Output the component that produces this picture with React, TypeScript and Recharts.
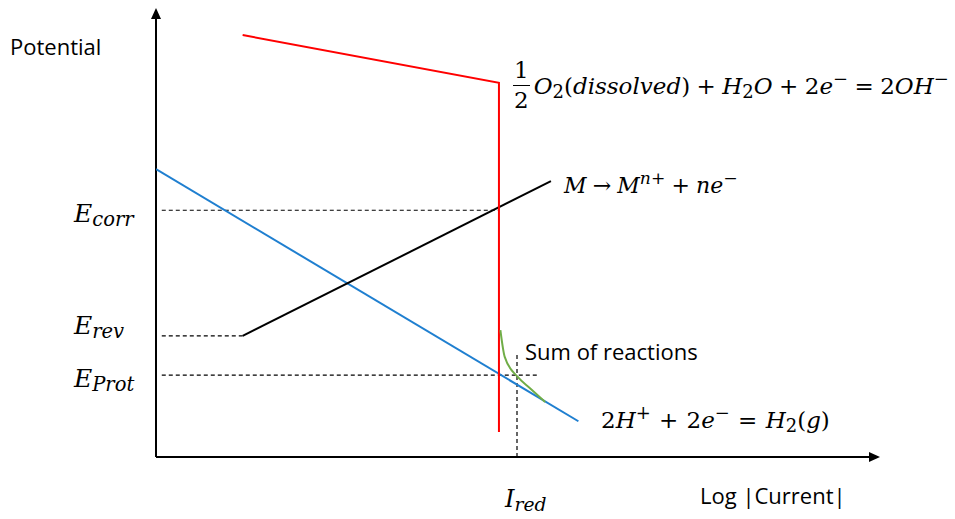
import { LineChart, Line, XAxis, YAxis, ReferenceDot, ReferenceLine } from "recharts";

// x = log|current|, y = potential (arbitrary units, 0..10 on both axes)
const oxygenX = [1.2, 4.75, 4.75];
const oxygenY = [9.44, 8.37, 0.56];
const metalX = [1.2, 5.47];
const metalY = [2.71, 6.17];
const hydrogenX = [0, 5.85];
const hydrogenY = [6.44, 0.8];
const sumX = [4.77, 4.83, 5.01, 5.18, 5.39];
const sumY = [2.84, 2.24, 1.79, 1.54, 1.23];

const E_CORR = 5.52;
const E_REV = 2.71;
const E_PROT = 1.83;
const I_RED = 5.0;
const GUIDE_START = 0.08;

const pts = (xs: number[], ys: number[]) => xs.map((x, i) => ({ x, y: ys[i] }));

const oxygen = pts(oxygenX, oxygenY);
const metal = pts(metalX, metalY);
const hydrogen = pts(hydrogenX, hydrogenY);
const sum = pts(sumX, sumY);
const corrGuide = pts([GUIDE_START, oxygenX[1]], [E_CORR, E_CORR]);
const revGuide = pts([GUIDE_START, metalX[0]], [E_REV, E_REV]);
const protGuide = pts([GUIDE_START, 5.28], [E_PROT, E_PROT]);
const iredGuide = pts([I_RED, I_RED], [0, 2.33]);

const math = "'DejaVu Serif', 'Liberation Serif', serif";
const sans = "'Open Sans', Lato, sans-serif";

const label = (left: number, top: number, size: number, family: string, italic = false) => ({
  position: "absolute" as const,
  left,
  top,
  fontSize: size,
  fontFamily: family,
  fontStyle: italic ? "italic" : "normal",
  whiteSpace: "nowrap" as const,
  lineHeight: 1,
  color: "#000",
});

const sub = { fontSize: "0.78em", verticalAlign: "-0.22em" };
const sup = { fontSize: "0.78em", verticalAlign: "0.5em" };
const up = { fontStyle: "normal" as const };
const op = { fontStyle: "normal" as const, margin: "0 0.28em" };
const wideOp = { fontStyle: "normal" as const, margin: "0 0.36em" };

const ArrowRight = (p: any) => (
  <path d={`M${p.cx + 2} ${p.cy} l-11 -5 l0 10 z`} fill="#000" />
);
const ArrowUp = (p: any) => (
  <path d={`M${p.cx} ${p.cy - 2} l-5 11 l10 0 z`} fill="#000" />
);

const dashed = { stroke: "#000", strokeWidth: 1.2, strokeDasharray: "4 3" };

export default function App() {
  return (
    <div style={{ position: "absolute", left: 0, top: 0, width: 955, height: 519, background: "#fff" }}>
      <LineChart width={955} height={519} margin={{ top: 10, right: 77, bottom: 62, left: 156 }}>
        <XAxis type="number" dataKey="x" domain={[0, 10]} allowDataOverflow hide />
        <YAxis type="number" dataKey="y" domain={[0, 10]} allowDataOverflow hide />
        <ReferenceLine y={0} stroke="#000" strokeWidth={2} ifOverflow="visible" />
        <ReferenceLine x={0} stroke="#000" strokeWidth={2} ifOverflow="visible" />
        <Line data={corrGuide} dataKey="y" {...dashed} dot={false} isAnimationActive={false} />
        <Line data={revGuide} dataKey="y" {...dashed} dot={false} isAnimationActive={false} />
        <Line data={protGuide} dataKey="y" {...dashed} dot={false} isAnimationActive={false} />
        <Line data={iredGuide} dataKey="y" {...dashed} dot={false} isAnimationActive={false} />
        <Line data={hydrogen} dataKey="y" stroke="#1f7fd0" strokeWidth={2} dot={false} isAnimationActive={false} />
        <Line data={metal} dataKey="y" stroke="#000" strokeWidth={2} dot={false} isAnimationActive={false} />
        <Line data={oxygen} dataKey="y" stroke="#ff0000" strokeWidth={2} dot={false} isAnimationActive={false} />
        <Line data={sum} dataKey="y" type="monotone" stroke="#70ad47" strokeWidth={2} dot={false} isAnimationActive={false} />
        <ReferenceDot x={10} y={0} r={0} shape={ArrowRight} ifOverflow="visible" />
        <ReferenceDot x={0} y={10} r={0} shape={ArrowUp} ifOverflow="visible" />
      </LineChart>

      <div style={label(10, 35, 22, sans)}>Potential</div>
      <div style={label(700, 484, 22, sans)}>Log |Current|</div>
      <div style={label(525, 340, 22, sans)}>Sum of reactions</div>

      <div style={label(74, 201, 25, math, true)}>E<span style={sub}>corr</span></div>
      <div style={label(74, 313, 25, math, true)}>E<span style={sub}>rev</span></div>
      <div style={label(74, 366, 25, math, true)}>E<span style={sub}>Prot</span></div>
      <div style={label(505, 487, 24, math, true)}>I<span style={sub}>red</span></div>

      <div style={label(564, 170, 22, math, true)}>
        M<span style={op}>→</span>M<span style={sup}>n<span style={up}>+</span></span><span style={op}>+</span>ne<span style={sup}><span style={up}>−</span></span>
      </div>

      <div style={label(601, 404, 23, math, true)}>
        <span style={up}>2</span>H<span style={sup}><span style={up}>+</span></span><span style={wideOp}>+</span><span style={up}>2</span>e<span style={sup}><span style={up}>−</span></span><span style={wideOp}>=</span>H<span style={{ ...sub, ...up }}>2</span><span style={up}>(</span>g<span style={up}>)</span>
      </div>

      <div style={{ ...label(513, 59, 23, math, true), display: "flex", alignItems: "center" }}>
        <span style={{ display: "inline-flex", flexDirection: "column", alignItems: "center", fontStyle: "normal", marginRight: 4 }}>
          <span style={{ padding: "0 1px 3px" }}>1</span>
          <span style={{ borderTop: "1.5px solid #000", padding: "3px 1px 0" }}>2</span>
        </span>
        <span>
          O<span style={{ ...sub, ...up }}>2</span><span style={up}>(</span>dissolved<span style={up}>)</span><span style={op}>+</span>H<span style={{ ...sub, ...up }}>2</span>O<span style={op}>+</span><span style={up}>2</span>e<span style={sup}><span style={up}>−</span></span><span style={op}>=</span><span style={up}>2</span>OH<span style={sup}><span style={up}>−</span></span>
        </span>
      </div>
    </div>
  );
}
